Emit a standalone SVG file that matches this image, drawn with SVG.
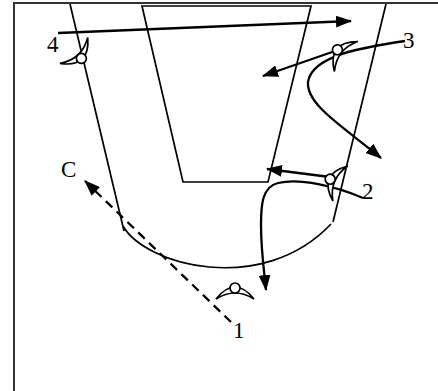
<svg xmlns="http://www.w3.org/2000/svg" width="438" height="391" viewBox="0 0 438 391">
<style>
.court{fill:none;stroke:#000;stroke-width:1.7}
.mv{fill:none;stroke:#000;stroke-width:2.3}
.lbl{font-family:"Liberation Serif",serif;font-size:23px;fill:#000}
</style>
<defs>
<marker id="ah" viewBox="0 0 16 12" refX="15" refY="6" markerWidth="16" markerHeight="12" markerUnits="userSpaceOnUse" orient="auto">
<path d="M0,0 L16,6 L0,12 z" fill="#000"/>
</marker>
<g id="pl">
<path d="M-19,9 Q0,-15 19,9 Q0,-3 -19,9 z" fill="#fff" stroke="#000" stroke-width="1.7"/>
<circle cx="0" cy="-2" r="5" fill="#fff" stroke="#000" stroke-width="1.7"/>
</g>
</defs>
<g id="court">
<path d="M14,391 L14,3 L438,3" fill="none" stroke="#333" stroke-width="2"/>
<path class="court" d="M70,4 L124,231"/>
<path class="court" d="M386,4 L333,222"/>
<path class="court" d="M123,226 C145,265 262,297 331,224"/>
<path class="court" d="M142,6 L311,6 L268,182 L183,182 Z"/>
</g>
<g id="connectors">
<path class="mv" d="M58,33 L351,21" marker-end="url(#ah)"/>
<path class="mv" d="M338,50 L263,76" marker-end="url(#ah)"/>
<path class="mv" d="M405,41 C365,47 312,55 308,82 C306,105 345,128 381,158" marker-end="url(#ah)"/>
<path class="mv" d="M330,177 L267,169" marker-end="url(#ah)"/>
<path class="mv" d="M363,198 C335,186 300,178 278,183 C262,187 261,205 261,225 C261,250 264,270 266,290" marker-end="url(#ah)"/>
<path class="mv" d="M231,322 L85,181" stroke-dasharray="9 6" marker-end="url(#ah)"/>
</g>
<g id="p4"><use href="#pl" transform="translate(80,57) rotate(137)"/><text class="lbl" x="47" y="52">4</text></g>
<g id="p3"><use href="#pl" transform="translate(339,51) rotate(-52)"/><text class="lbl" x="403" y="48">3</text></g>
<g id="p2"><use href="#pl" transform="translate(332,180) rotate(-67)"/><text class="lbl" x="362" y="199">2</text></g>
<g id="p1"><use href="#pl" transform="translate(235,290)"/><text class="lbl" x="233" y="338">1</text></g>
<g id="c"><text class="lbl" x="61" y="177">C</text></g>
</svg>
